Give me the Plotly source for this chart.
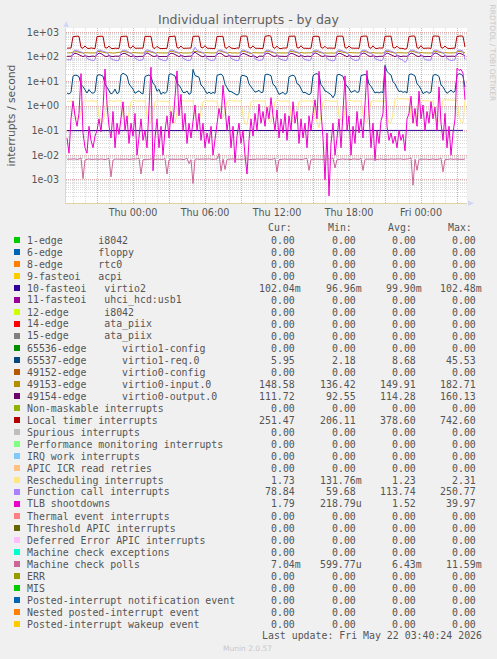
import plotly.graph_objects as go
import pandas as pd

# ---------------- data ----------------
# 10-minute samples, Wed 2026-05-20 18:30 .. Fri 2026-05-22 03:40
times = pd.date_range("2026-05-20 18:30", periods=200, freq="10min")
times_hourly = pd.date_range("2026-05-20 18:30", periods=34, freq="1h")

virtio2 = [0.0999, 0.1001, 0.0998, 0.1000, 0.1002, 0.0997, 0.0999, 0.1001, 0.1000, 0.0998,
           0.1003, 0.0999, 0.1000, 0.0997, 0.1001, 0.0999, 0.1002, 0.1000, 0.0998, 0.1001,
           0.0999, 0.1000, 0.1002, 0.0998, 0.0999, 0.1001, 0.1000, 0.0997, 0.1002, 0.0999,
           0.1001, 0.1000, 0.1003, 0.1020]

virtio1_req = [3.4, 3.1, 3.6,
    16.5, 18.2, 17.6, 15.8, 7.5, 6.2, 4.6, 3.4, 4.7, 3.6, 3.3, 3.8,
    17.2, 19.0, 18.1, 16.4, 7.9, 5.8, 4.2, 3.1, 3.5, 4.9, 3.2, 3.6,
    18.4, 21.5, 19.6, 17.0, 8.0, 6.5, 4.9, 3.3, 3.8, 4.2, 3.4, 3.1,
    16.0, 17.8, 18.6, 15.5, 8.6, 6.9, 4.0, 4.8, 3.0, 3.6, 3.3, 3.9,
    19.2, 20.6, 18.4, 16.8, 8.4, 7.1, 5.3, 3.6, 3.5, 4.1, 3.0, 3.4,
    31.0, 17.5, 16.2, 15.0, 7.2, 6.0, 4.4, 3.2, 3.7, 3.2, 3.6, 3.3,
    17.8, 19.4, 20.2, 16.6, 7.8, 5.6, 4.0, 3.9, 3.4, 3.1, 2.8, 3.2,
    16.4, 18.0, 17.2, 15.6, 8.0, 6.3, 4.8, 3.7, 3.9, 4.4, 3.5, 3.7,
    18.6, 20.0, 18.8, 17.2, 7.6, 6.6, 4.5, 3.0, 3.3, 3.6, 3.0, 3.4,
    15.8, 17.4, 18.2, 16.0, 8.2, 7.4, 5.2, 3.5, 3.6, 3.2, 2.9, 3.3,
    17.0, 19.8, 21.0, 17.6, 7.4, 5.9, 4.1, 3.8, 3.2, 2.9, 2.18, 3.1,
    18.2, 19.6, 18.0, 16.2, 8.4, 6.8, 5.1, 3.6, 3.9, 4.3, 3.6, 3.8,
    17.4, 18.8, 19.4, 17.0, 7.9, 6.4, 4.7, 3.4, 3.7, 3.4, 3.8, 3.5,
    45.53, 26.0, 21.0, 18.5, 9.8, 8.0, 5.4, 3.9, 4.1, 3.6, 3.9, 3.4,
    18.8, 20.4, 19.0, 16.8, 8.0, 6.7, 4.8, 3.2, 3.6, 3.9, 3.3, 3.7,
    17.6, 19.2, 18.4, 16.0, 7.2, 6.1, 4.3, 3.3, 3.8, 4.5, 3.6, 4.0,
    18.0, 20.8, 19.8, 16.6, 5.95]

virtio0_input = [146, 144, 147,
    158, 167, 164, 154, 147, 143, 149, 146, 142, 145, 147, 144,
    160, 169, 163, 156, 146, 144, 150, 145, 143, 146, 148, 145,
    157, 171, 166, 155, 148, 142, 151, 147, 144, 145, 146, 143,
    161, 168, 165, 157, 145, 143, 148, 146, 141, 147, 145, 144,
    159, 172, 167, 153, 147, 145, 152, 144, 143, 146, 148, 146,
    162, 170, 164, 156, 148, 144, 149, 147, 142, 145, 146, 145,
    158, 182.71, 168, 158, 146, 143, 151, 145, 144, 147, 145, 143,
    160, 169, 165, 155, 147, 136.42, 150, 146, 143, 146, 148, 144,
    163, 173, 166, 154, 148, 144, 149, 147, 145, 144, 146, 145,
    157, 168, 164, 157, 146, 142, 152, 145, 143, 147, 145, 146,
    161, 171, 167, 155, 147, 145, 148, 146, 144, 145, 147, 143,
    159, 170, 163, 156, 148, 143, 150, 147, 142, 146, 146, 145,
    162, 174, 166, 154, 146, 144, 151, 145, 143, 147, 148, 144,
    160, 169, 165, 157, 147, 142, 149, 146, 144, 145, 146, 145,
    158, 172, 168, 155, 148, 145, 152, 147, 143, 146, 145, 144,
    163, 170, 164, 156, 146, 143, 150, 145, 144, 147, 147, 146,
    161, 171, 166, 155, 148.58]

virtio0_output = [106, 104, 107,
    124, 141, 135, 121, 108, 103, 113, 107, 102, 106, 109, 104,
    127, 144, 137, 119, 107, 104, 115, 106, 103, 108, 105, 107,
    122, 139, 140, 123, 109, 102, 112, 108, 101, 105, 107, 106,
    126, 146, 134, 120, 106, 105, 114, 104, 103, 107, 108, 105,
    123, 142, 138, 122, 110, 103, 116, 107, 102, 106, 104, 108,
    128, 160.13, 136, 118, 108, 101, 113, 105, 104, 109, 106, 105,
    125, 143, 139, 121, 107, 104, 115, 108, 103, 105, 107, 104,
    121, 140, 133, 124, 109, 102, 112, 106, 92.55, 107, 108, 106,
    127, 145, 137, 120, 108, 105, 114, 107, 103, 106, 105, 107,
    124, 141, 135, 122, 106, 103, 116, 105, 102, 108, 107, 104,
    126, 147, 138, 119, 109, 104, 113, 108, 104, 105, 106, 106,
    123, 142, 136, 123, 107, 102, 115, 106, 103, 107, 108, 105,
    128, 144, 140, 121, 108, 105, 112, 107, 101, 106, 104, 107,
    125, 146, 134, 120, 110, 103, 114, 105, 103, 108, 107, 106,
    122, 143, 137, 122, 107, 104, 116, 108, 102, 105, 106, 104,
    127, 145, 139, 119, 108, 102, 113, 106, 104, 107, 108, 105,
    124, 142, 136, 121, 111.72]

local_timer = [228, 224, 231,
    668, 690, 702, 685, 242, 226, 281, 229, 221, 233, 226, 219,
    675, 705, 698, 690, 238, 231, 276, 224, 218, 228, 232, 222,
    684, 712, 695, 701, 245, 228, 285, 226, 230, 221, 224, 229,
    690, 698, 720, 688, 236, 222, 270, 231, 219, 226, 230, 225,
    672, 701, 693, 710, 240, 229, 279, 224, 227, 223, 218, 231,
    688, 714, 702, 695, 244, 233, 288, 228, 222, 231, 226, 220,
    679, 696, 709, 692, 237, 225, 274, 230, 224, 219, 233, 227,
    701, 725, 711, 698, 241, 230, 283, 227, 229, 222, 225, 221,
    686, 703, 742.6, 690, 246, 224, 277, 223, 218, 230, 227, 232,
    694, 710, 699, 705, 239, 232, 286, 229, 226, 221, 224, 228,
    680, 698, 716, 689, 243, 227, 272, 225, 231, 228, 220, 226,
    697, 721, 704, 693, 238, 229, 280, 231, 223, 226, 229, 222,
    683, 707, 712, 700, 245, 223, 284, 226, 220, 232, 225, 230,
    692, 715, 698, 706, 240, 231, 275, 228, 227, 222, 206.11, 224,
    678, 702, 719, 691, 236, 226, 287, 224, 229, 225, 230, 221,
    699, 713, 705, 697, 242, 228, 279, 230, 221, 227, 224, 229,
    688, 709, 716, 694, 251.47]

rescheduling = [1.55, 1.62, 1.58,
    1.60, 0.42, 0.30, 0.33, 0.55, 1.50, 1.68, 1.60, 1.57, 1.64, 1.59, 1.52,
    1.56, 0.40, 0.24, 0.22, 0.60, 1.48, 1.62, 1.66, 1.55, 1.61, 1.58, 1.63,
    1.59, 0.45, 0.26, 0.25, 0.52, 1.52, 1.70, 1.62, 1.58, 1.55, 1.60, 1.57,
    1.62, 0.38, 0.21, 0.23, 0.58, 1.46, 1.65, 1.59, 1.63, 1.57, 1.54, 1.60,
    1.58, 0.43, 0.22, 0.20, 0.50, 1.55, 1.72, 1.64, 1.60, 1.56, 1.62, 1.59,
    1.61, 0.41, 0.27, 0.24, 0.62, 1.49, 1.67, 1.61, 1.58, 1.63, 1.57, 1.55,
    1.57, 0.46, 0.30, 0.35, 0.70, 1.51, 1.69, 1.63, 1.56, 1.60, 1.59, 1.62,
    1.60, 0.39, 0.19, 0.18, 0.48, 1.47, 1.64, 1.60, 1.57, 1.62, 1.58, 1.56,
    1.63, 0.44, 0.25, 0.22, 0.56, 1.53, 1.71, 1.62, 1.59, 1.55, 1.61, 1.58,
    1.59, 0.40, 0.23, 0.21, 0.54, 1.50, 1.66, 1.58, 1.62, 1.57, 1.60, 1.63,
    1.56, 0.37, 0.20, 0.13, 0.47, 1.48, 1.68, 1.64, 1.58, 1.61, 1.56, 1.59,
    1.62, 0.42, 0.26, 0.24, 0.60, 1.54, 1.73, 1.61, 1.57, 1.59, 1.62, 1.57,
    1.58, 0.45, 0.24, 0.22, 0.57, 1.49, 1.65, 1.60, 1.63, 1.58, 1.55, 1.60,
    1.61, 0.39, 0.21, 0.20, 0.51, 1.90, 2.05, 2.00, 1.96, 2.02, 1.98, 1.94,
    1.97, 0.36, 0.22, 0.19, 0.49, 1.52, 1.66, 1.62, 1.59, 1.56, 1.61, 1.58,
    1.60, 0.41, 0.25, 0.23, 0.55, 1.68, 1.80, 1.76, 1.72, 1.78, 1.74, 1.70,
    1.72, 0.40, 0.22, 0.21, 1.73]

function_call = [77, 74, 76,
    160, 188, 184, 171, 158, 149, 122, 86, 79, 73, 71, 77,
    166, 192, 181, 168, 161, 152, 118, 84, 77, 75, 70, 74,
    158, 186, 190, 173, 157, 147, 125, 88, 80, 72, 74, 78,
    170, 195, 183, 166, 160, 151, 120, 83, 76, 74, 69, 75,
    162, 189, 187, 175, 156, 148, 117, 87, 81, 73, 72, 76,
    168, 250.77, 185, 169, 162, 150, 124, 85, 78, 71, 73, 77,
    159, 187, 192, 172, 158, 153, 119, 89, 79, 75, 70, 74,
    171, 194, 182, 167, 161, 146, 121, 84, 77, 72, 74, 78,
    163, 190, 186, 174, 157, 149, 126, 86, 80, 74, 71, 75,
    167, 193, 188, 170, 159, 152, 118, 88, 78, 73, 72, 77,
    161, 185, 191, 173, 160, 148, 123, 85, 76, 75, 69, 74,
    169, 196, 184, 168, 156, 151, 120, 87, 79, 72, 73, 76,
    164, 188, 189, 171, 162, 147, 125, 84, 77, 74, 70, 78,
    170, 192, 183, 175, 158, 150, 119, 86, 81, 73, 59.68, 75,
    160, 187, 190, 169, 161, 153, 122, 88, 78, 75, 72, 74,
    166, 194, 185, 172, 157, 149, 124, 85, 77, 71, 74, 77,
    163, 190, 186, 170, 78.84]

tlb_shootdowns = [0.05, 0.012, 0.3,
    1.6, 0.4, 0.15, 0.5, 21, 0.08, 0.02, 0.012, 0.15, 0.04, 0.02, 0.06,
    0.1, 0.3, 0.09, 0.8, 32, 1.2, 0.15, 0.05, 0.6, 0.02, 0.2, 0.07,
    0.3, 1.5, 0.1, 0.4, 0.03, 0.2, 0.06, 0.5, 0.01, 0.08, 0.3, 0.04,
    0.1, 0.02, 0.5, 38, 0.0023, 0.05, 0.3, 0.02, 0.15, 0.01, 0.1, 0.4,
    0.05, 0.6, 0.2, 2.5, 27, 0.4, 3.0, 0.1, 0.5, 0.03, 0.2, 0.05,
    0.3, 1.1, 0.1, 0.5, 0.04, 0.2, 0.02, 0.08, 0.03, 0.15, 0.01, 0.05,
    0.2, 0.8, 0.3, 7.0, 0.9, 0.1, 0.4, 0.02, 0.15, 0.005, 0.06, 0.2,
    0.03, 0.1, 0.01, 0.0017, 0.04, 0.3, 0.06, 0.5, 0.1, 1.2, 0.2, 0.6,
    0.15, 0.9, 0.3, 2.2, 0.4, 0.1, 0.7, 0.05, 0.3, 0.08, 0.5, 0.04,
    0.4, 0.1, 1.5, 0.2, 0.6, 0.03, 0.3, 0.05, 0.2, 0.02, 0.4, 0.1,
    0.5, 1.8, 0.3, 26, 0.6, 0.05, 0.001, 0.08, 0.00022, 0.03, 0.2, 0.01,
    0.05, 0.3, 0.02, 0.8, 17, 0.1, 0.4, 0.01, 0.15, 0.03, 0.6, 0.08,
    0.3, 0.05, 1.2, 28, 0.5, 0.02, 0.2, 0.006, 0.1, 0.03, 0.25, 0.5,
    39.97, 0.15, 0.04, 0.08, 0.03, 0.06, 0.02, 0.1, 0.04, 0.07, 0.015, 0.3,
    0.5, 2.5, 0.2, 0.8, 0.15, 4.0, 0.3, 1.1, 0.1, 0.6, 0.2, 1.5,
    0.3, 0.9, 0.1, 6.0, 0.2, 0.04, 0.5, 0.02, 0.15, 0.01, 0.08, 0.3,
    35, 28, 31, 22, 1.79]

machine_check_polls = [0.0068, 0.0069, 0.0067,
    0.0068, 0.0070, 0.0067, 0.0069, 0.0078, 0.0011, 0.0064, 0.0068, 0.0070, 0.0067, 0.0069, 0.0068,
    0.0069, 0.0067, 0.0070, 0.0068, 0.0066, 0.0069, 0.0074, 0.0013, 0.0063, 0.0069, 0.0068, 0.0070,
    0.0067, 0.0069, 0.0068, 0.0070, 0.0066, 0.0069, 0.0068, 0.0067, 0.0070, 0.0076, 0.0017, 0.0065,
    0.0069, 0.0068, 0.0067, 0.0070, 0.0068, 0.0066, 0.0069, 0.0068, 0.0070, 0.0067, 0.0073, 0.0017,
    0.0064, 0.0069, 0.0068, 0.0067, 0.0070, 0.0068, 0.0069, 0.0066, 0.0068, 0.0075, 0.0045, 0.0066,
    0.0007, 0.0068, 0.0070, 0.0067, 0.0069, 0.0068, 0.0066, 0.0069, 0.0070, 0.0068, 0.0067, 0.0069,
    0.0068, 0.0116, 0.0022, 0.0071, 0.0026, 0.0067, 0.0069, 0.0068, 0.0070, 0.0067, 0.0069, 0.0068,
    0.0067, 0.0069, 0.0068, 0.0070, 0.0066, 0.0069, 0.0068, 0.0067, 0.0070, 0.0068, 0.0069, 0.0067,
    0.0068, 0.0070, 0.0067, 0.0069, 0.0068, 0.0076, 0.0021, 0.0066, 0.0069, 0.0068, 0.0070, 0.0067,
    0.0069, 0.0068, 0.0067, 0.0070, 0.0068, 0.0069, 0.0066, 0.0068, 0.0070, 0.0074, 0.0024, 0.0067,
    0.0068, 0.0069, 0.0067, 0.0070, 0.0068, 0.0066, 0.0069, 0.0068, 0.0070, 0.0067, 0.0077, 0.0030,
    0.0066, 0.0069, 0.0068, 0.0070, 0.0067, 0.0069, 0.0068, 0.0066, 0.0070, 0.0068, 0.0069, 0.0067,
    0.0075, 0.0024, 0.0068, 0.0069, 0.0067, 0.0070, 0.0068, 0.0069, 0.0066, 0.0068, 0.0070, 0.0067,
    0.0069, 0.0068, 0.0067, 0.0070, 0.0068, 0.0069, 0.0066, 0.0068, 0.0070, 0.0067, 0.0069, 0.0068,
    0.0070, 0.0079, 0.0006, 0.0069, 0.0024, 0.0068, 0.0067, 0.0070, 0.0068, 0.0069, 0.0066, 0.0068,
    0.0070, 0.0067, 0.0069, 0.0068, 0.0076, 0.0021, 0.0066, 0.0069, 0.0068, 0.0070, 0.0067, 0.0069,
    0.0068, 0.0070, 0.0069, 0.0067, 0.00704]

# legend table
legend_names = [
    "1-edge      i8042", "6-edge      floppy", "8-edge      rtc0", "9-fasteoi   acpi",
    "10-fasteoi   virtio2", "11-fasteoi   uhci_hcd:usb1", "12-edge      i8042",
    "14-edge      ata_piix", "15-edge      ata_piix", "65536-edge      virtio1-config",
    "65537-edge      virtio1-req.0", "49152-edge      virtio0-config",
    "49153-edge      virtio0-input.0", "49154-edge      virtio0-output.0",
    "Non-maskable interrupts", "Local timer interrupts", "Spurious interrupts",
    "Performance monitoring interrupts", "IRQ work interrupts", "APIC ICR read retries",
    "Rescheduling interrupts", "Function call interrupts", "TLB shootdowns",
    "Thermal event interrupts", "Threshold APIC interrupts", "Deferred Error APIC interrupts",
    "Machine check exceptions", "Machine check polls", "ERR", "MIS",
    "Posted-interrupt notification event", "Nested posted-interrupt event",
    "Posted-interrupt wakeup event"]
legend_colors = [
    "#00CC00", "#0066B3", "#FF8000", "#FFCC00", "#330099", "#990099", "#CCFF00", "#FF0000",
    "#808080", "#008F00", "#00487D", "#B35A00", "#B38F00", "#6B006B", "#8FB300", "#B30000",
    "#BEBEBE", "#80FF80", "#80C9FF", "#FFC080", "#FFE680", "#AA80FF", "#EE00CC", "#FF8080",
    "#666600", "#FFBFFF", "#00FFCC", "#CC6699", "#999900", "#00CC00", "#0066B3", "#FF8000",
    "#FFCC00"]
Z = "0.00"
cur_vals = [Z, Z, Z, Z, "102.04m", Z, Z, Z, Z, Z, "5.95", Z, "148.58", "111.72", Z, "251.47",
            Z, Z, Z, Z, "1.73", "78.84", "1.79", Z, Z, Z, Z, "7.04m", Z, Z, Z, Z, Z]
min_vals = [Z, Z, Z, Z, "96.96m", Z, Z, Z, Z, Z, "2.18", Z, "136.42", "92.55", Z, "206.11",
            Z, Z, Z, Z, "131.76m", "59.68", "218.79u", Z, Z, Z, Z, "599.77u", Z, Z, Z, Z, Z]
avg_vals = [Z, Z, Z, Z, "99.90m", Z, Z, Z, Z, Z, "8.68", Z, "149.91", "114.28", Z, "378.60",
            Z, Z, Z, Z, "1.23", "113.74", "1.52", Z, Z, Z, Z, "6.43m", Z, Z, Z, Z, Z]
max_vals = [Z, Z, Z, Z, "102.48m", Z, Z, Z, Z, Z, "45.53", Z, "182.71", "160.13", Z, "742.60",
            Z, Z, Z, Z, "2.31", "250.77", "39.97", Z, Z, Z, Z, "11.59m", Z, Z, Z, Z, Z]
column_heads = ["Cur:", "Min:", "Avg:", "Max:"]

x_tick_vals = ["2026-05-20 21:00", "2026-05-21 00:00", "2026-05-21 03:00", "2026-05-21 06:00",
               "2026-05-21 09:00", "2026-05-21 12:00", "2026-05-21 15:00", "2026-05-21 18:00",
               "2026-05-21 21:00", "2026-05-22 00:00", "2026-05-22 03:00"]
x_tick_text = ["", "Thu 00:00", "", "Thu 06:00", "", "Thu 12:00", "", "Thu 18:00", "",
               "Fri 00:00", ""]
y_tick_vals = [1e-3, 1e-2, 1e-1, 1e0, 1e1, 1e2, 1e3]
y_tick_text = ["1e-03", "1e-02", "1e-01", "1e+00", "1e+01", "1e+02", "1e+03"]

# ---------------- layout geometry ----------------
W, H = 497, 659
ML, MR, MT, MB = 66, 30, 28, 456
PW = W - ML - MR
PH = H - MT - MB


def px(x):
    return (x - ML) / PW


def py(y):
    return (H - MB - y) / PH


TEXT = "#555555"
MONO = "DejaVu Sans Mono"
SANS = "DejaVu Sans"

fig = go.Figure()

series = [
    (times_hourly, virtio2, "#330099"),
    (times, virtio1_req, "#00487D"),
    (times, virtio0_input, "#B38F00"),
    (times, virtio0_output, "#6B006B"),
    (times, local_timer, "#B30000"),
    (times, rescheduling, "#FFE680"),
    (times, function_call, "#AA80FF"),
    (times, tlb_shootdowns, "#EE00CC"),
    (times, machine_check_polls, "#CC6699"),
]
for xs, ys, col in series:
    fig.add_trace(go.Scatter(x=xs, y=ys, mode="lines", line=dict(color=col, width=1),
                             hoverinfo="skip", showlegend=False))


def note(x, y, text, size, family=MONO, color=TEXT, xanchor="left", angle=0):
    return dict(x=px(x), y=py(y), xref="paper", yref="paper", text=text, showarrow=False,
                xanchor=xanchor, yanchor="middle", borderpad=0, textangle=angle,
                font=dict(family=family, size=size, color=color))


ann = []
ann.append(note(248.5, 19, "Individual interrupts - by day", 12.5, SANS, "#606060", "center"))
ann.append(note(11, 115.5, "interrupts / second", 10.8, SANS, xanchor="center", angle=-90))
ann.append(note(492.5, 53, "RRDTOOL / TOBI OETIKER", 7.5, SANS, "#C8C8C8", "center", 90))
ann.append(note(247.5, 648, "Munin 2.0.57", 7.5, SANS, "#C8C8C8", "center"))

CW = 6.0
head_x = [266.7, 326.7, 386.7, 446.7]
col_right = [295.7, 356.7, 416.7, 476.7]
for hx, ht in zip(head_x, column_heads):
    ann.append(note(hx, 227.7, ht, 9.9))

shapes = []
for i, name in enumerate(legend_names):
    ry = 240 + 12 * i
    ann.append(note(26, ry, name, 9.9))
    for c, vals in enumerate([cur_vals, min_vals, avg_vals, max_vals]):
        v = vals[i]
        xr = col_right[c] + (CW if v[-1].isalpha() else 0)
        ann.append(note(xr, ry, v, 9.9, xanchor="right"))
    shapes.append(dict(type="rect", xref="paper", yref="paper", x0=px(14), x1=px(20),
                       y0=py(ry + 3), y1=py(ry - 3), fillcolor=legend_colors[i], line=dict(width=0)))

ann.append(note(482.7, 635.6, "Last update: Fri May 22 03:40:24 2026", 9.9, xanchor="right"))

AXC = "#CFD6F8"
shapes.append(dict(type="path", xref="paper", yref="paper",
                   path=f"M {px(63.5)},{py(27)} L {px(69)},{py(27)} L {px(66.2)},{py(21)} Z",
                   fillcolor=AXC, line=dict(width=0)))
shapes.append(dict(type="path", xref="paper", yref="paper",
                   path=f"M {px(468)},{py(200.5)} L {px(468)},{py(206)} L {px(474)},{py(203.2)} Z",
                   fillcolor=AXC, line=dict(width=0)))

fig.update_layout(
    width=W, height=H, margin=dict(l=ML, r=MR, t=MT, b=MB, pad=0),
    paper_bgcolor="#F0F0F0", plot_bgcolor="#FFFFFF", showlegend=False,
    annotations=ann, shapes=shapes, hovermode=False,
    xaxis=dict(type="date", range=["2026-05-20 18:25", "2026-05-22 03:50"],
               tickmode="array", tickvals=x_tick_vals, ticktext=x_tick_text,
               tickfont=dict(family=SANS, size=9.6, color=TEXT), ticks="",
               showgrid=True, gridcolor="#E6A8A8", griddash="1px,1px", gridwidth=1,
               minor=dict(tickmode="linear", tick0="2026-05-20 00:00", dtick=3600000,
                          showgrid=True, gridcolor="#DCDCDC", griddash="1px,1px", gridwidth=1),
               showline=True, linecolor="#E2D49C", linewidth=1, zeroline=False, fixedrange=True),
    yaxis=dict(type="log", range=[-3.949, 3.179], tickmode="array", tickvals=y_tick_vals,
               ticktext=y_tick_text, tickfont=dict(family=SANS, size=9.6, color=TEXT), ticks="",
               ticklabelstandoff=4,
               showgrid=True, gridcolor="#E6A8A8", griddash="1px,1px", gridwidth=1,
               minor=dict(dtick="D1", showgrid=True, gridcolor="#DCDCDC", griddash="1px,1px",
                          gridwidth=1),
               showline=True, linecolor=AXC, linewidth=1, zeroline=False, fixedrange=True),
)

fig.write_html("out.html", config={"staticPlot": True},
               post_script="document.body.style.margin='0px';document.body.style.overflow='hidden';")
